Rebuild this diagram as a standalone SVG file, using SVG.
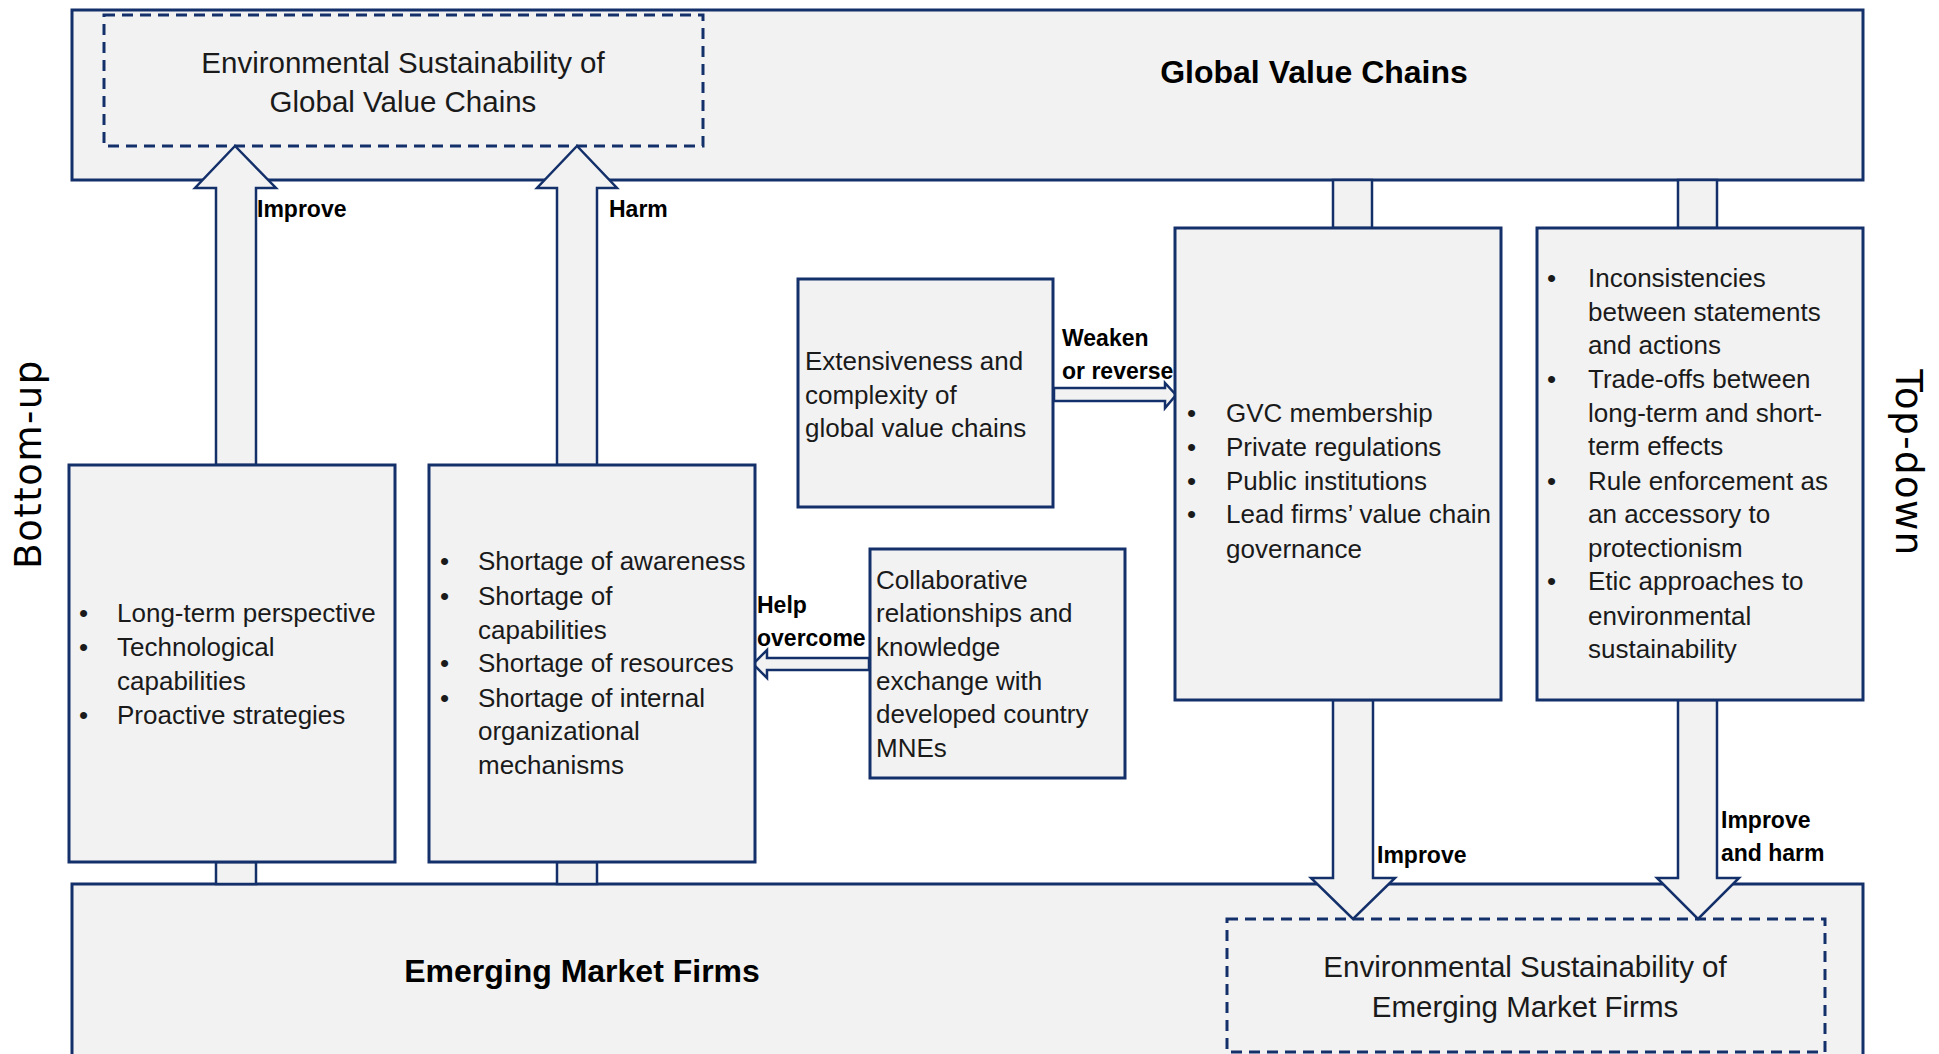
<svg xmlns="http://www.w3.org/2000/svg" width="1939" height="1054" viewBox="0 0 1939 1054">
<style>
.box{fill:#f2f2f2;stroke:#14306a;stroke-width:3}
.dash{fill:#f2f2f2;stroke:#14306a;stroke-width:3;stroke-dasharray:11 7}
.arr{fill:#f2f2f2;stroke:#14306a;stroke-width:2.5;stroke-linejoin:miter}
.t{font-family:"Liberation Sans",Arial,sans-serif;font-size:26px;fill:#1a1a1a}
.h{font-family:"Liberation Sans",Arial,sans-serif;font-size:29.5px;fill:#1a1a1a;text-anchor:middle}
.hb{font-family:"Liberation Sans",Arial,sans-serif;font-size:32px;font-weight:bold;fill:#000;text-anchor:middle}
.lb{font-family:"Liberation Sans",Arial,sans-serif;font-size:23px;font-weight:bold;fill:#000}
.side{font-family:"DejaVu Sans",sans-serif;font-size:37px;fill:#000;text-anchor:middle;letter-spacing:1.5px}
</style>
<g id="gvc-container">
<rect class="box" x="72" y="10" width="1791" height="170"/>
<text class="hb" x="1314" y="83">Global Value Chains</text>
</g>
<g id="emf-container">
<rect class="box" x="72" y="884" width="1791" height="185"/>
<text class="hb" x="582" y="982">Emerging Market Firms</text>
</g>
<g id="es-gvc">
<rect class="dash" x="104" y="15" width="599" height="131"/>
<text class="h" x="403" y="73">Environmental Sustainability of</text>
<text class="h" x="403" y="112">Global Value Chains</text>
</g>
<g id="es-emf">
<rect class="dash" x="1227" y="919" width="598" height="133"/>
<text class="h" x="1525" y="977">Environmental Sustainability of</text>
<text class="h" x="1525" y="1017">Emerging Market Firms</text>
</g>
<g id="connectors">
<rect class="arr" x="1333" y="180" width="39" height="48"/>
<rect class="arr" x="1678" y="180" width="39" height="48"/>
<rect class="arr" x="216" y="862" width="40" height="22"/>
<rect class="arr" x="557" y="862" width="40" height="22"/>
<polygon class="arr" points="216,465 216,188 195,188 235,146 276,188 256,188 256,465"/>
<polygon class="arr" points="557,465 557,188 537,188 577,146 617,188 597,188 597,465"/>
<polygon class="arr" points="1333,700 1333,878 1311,878 1353,919 1395,878 1373,878 1373,700"/>
<polygon class="arr" points="1678,700 1678,878 1657,878 1698,919 1739,878 1717,878 1717,700"/>
<polygon class="arr" points="1054,388 1165,388 1165,383 1176,395 1165,408 1165,401 1054,401"/>
<polygon class="arr" points="869,658 767,658 767,650 753,664 767,678 767,670 869,670"/>
<text class="lb" x="257" y="217">Improve</text>
<text class="lb" x="609" y="217">Harm</text>
<text class="lb" x="1062" y="346">Weaken</text>
<text class="lb" x="1062" y="379">or reverse</text>
<text class="lb" x="757" y="613">Help</text>
<text class="lb" x="757" y="646">overcome</text>
<text class="lb" x="1377" y="863">Improve</text>
<text class="lb" x="1721" y="828">Improve</text>
<text class="lb" x="1721" y="861">and harm</text>
</g>
<g id="drivers">
<rect class="box" x="69" y="465" width="326" height="397"/>
<text class="t" x="79" y="622">•</text><text class="t" x="117" y="622">Long-term perspective</text>
<text class="t" x="79" y="656">•</text><text class="t" x="117" y="656">Technological</text>
<text class="t" x="117" y="690">capabilities</text>
<text class="t" x="79" y="724">•</text><text class="t" x="117" y="724">Proactive strategies</text>
</g>
<g id="shortages">
<rect class="box" x="429" y="465" width="326" height="397"/>
<text class="t" x="440" y="570">•</text><text class="t" x="478" y="570">Shortage of awareness</text>
<text class="t" x="440" y="605">•</text><text class="t" x="478" y="605">Shortage of</text>
<text class="t" x="478" y="639">capabilities</text>
<text class="t" x="440" y="672">•</text><text class="t" x="478" y="672">Shortage of resources</text>
<text class="t" x="440" y="707">•</text><text class="t" x="478" y="707">Shortage of internal</text>
<text class="t" x="478" y="740">organizational</text>
<text class="t" x="478" y="774">mechanisms</text>
</g>
<g id="extensiveness">
<rect class="box" x="798" y="279" width="255" height="228"/>
<text class="t" x="805" y="370">Extensiveness and</text>
<text class="t" x="805" y="404">complexity of</text>
<text class="t" x="805" y="437">global value chains</text>
</g>
<g id="collaborative">
<rect class="box" x="870" y="549" width="255" height="229"/>
<text class="t" x="876" y="589">Collaborative</text>
<text class="t" x="876" y="622">relationships and</text>
<text class="t" x="876" y="656">knowledge</text>
<text class="t" x="876" y="690">exchange with</text>
<text class="t" x="876" y="723">developed country</text>
<text class="t" x="876" y="757">MNEs</text>
</g>
<g id="gvc-factors">
<rect class="box" x="1175" y="228" width="326" height="472"/>
<text class="t" x="1187" y="422">•</text><text class="t" x="1226" y="422">GVC membership</text>
<text class="t" x="1187" y="456">•</text><text class="t" x="1226" y="456">Private regulations</text>
<text class="t" x="1187" y="490">•</text><text class="t" x="1226" y="490">Public institutions</text>
<text class="t" x="1187" y="523">•</text><text class="t" x="1226" y="523">Lead firms’ value chain</text>
<text class="t" x="1226" y="558">governance</text>
</g>
<g id="gvc-issues">
<rect class="box" x="1537" y="228" width="326" height="472"/>
<text class="t" x="1547" y="287">•</text><text class="t" x="1588" y="287">Inconsistencies</text>
<text class="t" x="1588" y="321">between statements</text>
<text class="t" x="1588" y="354">and actions</text>
<text class="t" x="1547" y="388">•</text><text class="t" x="1588" y="388">Trade-offs between</text>
<text class="t" x="1588" y="422">long-term and short-</text>
<text class="t" x="1588" y="455">term effects</text>
<text class="t" x="1547" y="490">•</text><text class="t" x="1588" y="490">Rule enforcement as</text>
<text class="t" x="1588" y="523">an accessory to</text>
<text class="t" x="1588" y="557">protectionism</text>
<text class="t" x="1547" y="590">•</text><text class="t" x="1588" y="590">Etic approaches to</text>
<text class="t" x="1588" y="625">environmental</text>
<text class="t" x="1588" y="658">sustainability</text>
</g>
<g id="side-labels">
<text class="side" transform="translate(41,464) rotate(-90)">Bottom-up</text>
<text class="side" transform="translate(1896,463) rotate(90)">Top-down</text>
</g>
</svg>
